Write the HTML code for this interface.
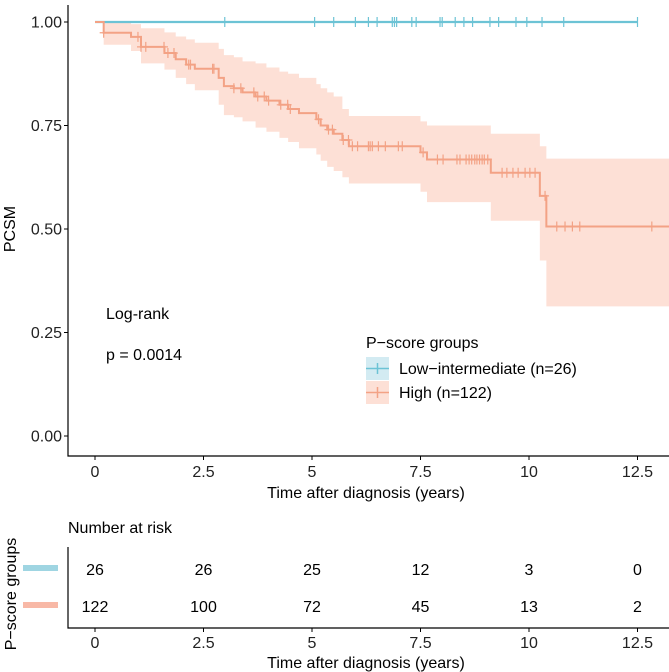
<!DOCTYPE html>
<html><head><meta charset="utf-8"><style>
body{margin:0;background:#fff}
svg{display:block;font-family:"Liberation Sans",Arial,sans-serif}
</style></head><body>
<svg id="chart" width="669" height="672" viewBox="0 0 669 672">
<defs><clipPath id="clip"><rect x="68" y="0" width="601" height="456"/></clipPath></defs>
<g id="plot" clip-path="url(#clip)"></g>
<g id="axes"></g>
</svg>
<script>
const stepTimes = [0,0.2,0.83,1.06,1.6,1.86,2.1,2.3,2.85,2.97,3.2,3.4,3.7,3.95,4.25,4.45,4.7,5.1,5.2,5.35,5.5,5.7,5.85,7.5,7.65,9.12,10.25,10.4];
const highSurv = [1,0.974,0.964,0.94,0.925,0.91,0.897,0.887,0.865,0.845,0.84,0.83,0.82,0.81,0.8,0.79,0.78,0.765,0.75,0.74,0.73,0.715,0.7,0.685,0.668,0.636,0.58,0.506];
const highUpper = [1,1,0.995,0.985,0.975,0.965,0.958,0.95,0.935,0.92,0.915,0.905,0.9,0.89,0.88,0.875,0.865,0.85,0.84,0.83,0.82,0.79,0.773,0.76,0.75,0.73,0.70,0.67];
const highLower = [1,0.945,0.93,0.9,0.885,0.865,0.85,0.835,0.8,0.775,0.77,0.76,0.745,0.735,0.72,0.71,0.695,0.68,0.665,0.65,0.64,0.625,0.61,0.59,0.565,0.52,0.424,0.313];
const highCensor = [0.2,0.99,1.06,1.17,1.59,1.68,1.82,2.16,2.2,2.71,2.74,3.2,3.36,3.66,3.75,3.9,4.0,4.28,4.44,4.5,5.15,5.38,5.47,5.72,5.84,5.93,6.05,6.3,6.34,6.39,6.53,6.69,6.99,7.08,7.56,7.89,8.02,8.34,8.41,8.55,8.62,8.68,8.75,8.8,8.86,8.92,8.97,9.05,9.38,9.49,9.63,9.75,9.91,10.02,10.14,10.37,10.64,10.83,11.0,11.17,12.83];
const lowCensor = [2.99,5.06,5.5,6.0,6.3,6.5,6.85,6.9,6.95,7.3,7.4,7.95,8.0,8.3,8.5,8.7,9.1,9.3,9.7,9.95,10.3,10.8,12.5];
const xTicks = [0,2.5,5,7.5,10,12.5];
const xTickLabels = ["0","2.5","5","7.5","10","12.5"];
const yTicks = [0,0.25,0.5,0.75,1];
const yTickLabels = ["0.00","0.25","0.50","0.75","1.00"];
const riskLow = ["26","26","25","12","3","0"];
const riskHigh = ["122","100","72","45","13","2"];

const X = t => 95 + t*43.4;
const Y = s => 436 - s*414;
const NS="http://www.w3.org/2000/svg";
const plot=document.getElementById('plot'), axes=document.getElementById('axes');
function mk(tag, attrs, parent){const e=document.createElementNS(NS,tag);for(const k in attrs)e.setAttribute(k,attrs[k]);parent.appendChild(e);return e;}
function txt(s, attrs, parent){const e=mk('text',attrs,parent);e.textContent=s;return e;}
const BLUE="#6cc3d5", ORANGE="#f3a285", BAND="#fde0d6";
const tEnd=13.4;

let bp="";
for(let i=0;i<stepTimes.length;i++){const t1=i+1<stepTimes.length?stepTimes[i+1]:tEnd;bp+=(i?"L":"M")+X(stepTimes[i])+","+Y(highUpper[i])+"L"+X(t1)+","+Y(highUpper[i]);}
for(let i=stepTimes.length-1;i>=0;i--){const t1=i+1<stepTimes.length?stepTimes[i+1]:tEnd;bp+="L"+X(t1)+","+Y(highLower[i])+"L"+X(stepTimes[i])+","+Y(highLower[i]);}
const band=mk('path',{d:bp+"Z",fill:BAND,stroke:"none"},plot);



const low=mk('line',{x1:X(0),y1:Y(1),x2:X(12.5),y2:Y(1),stroke:BLUE,"stroke-width":2.2},plot);


let lp="M"+X(0)+","+Y(1);
for(let i=1;i<stepTimes.length;i++){lp+="H"+X(stepTimes[i])+"V"+Y(highSurv[i]);}
lp+="H"+X(tEnd);
const high=mk('path',{d:lp,fill:"none",stroke:ORANGE,"stroke-width":2},plot);


function survAt(t){let s=1;for(let i=0;i<stepTimes.length;i++){if(stepTimes[i]<=t)s=highSurv[i];}return s;}
highCensor.forEach(t=>{const y=Y(survAt(t));const c=mk('path',{d:`M${X(t)},${y-5}V${y+5}M${X(t)-4},${y}H${X(t)+4}`,stroke:ORANGE,"stroke-width":1.2},plot);

});
lowCensor.forEach(t=>{const y=Y(1);const c=mk('path',{d:`M${X(t)},${y-5}V${y+5}`,stroke:BLUE,"stroke-width":1.2},plot);

});

mk('path',{d:"M68,5V456H669",fill:"none",stroke:"#000","stroke-width":1.2},axes);
yTicks.forEach((v,i)=>{mk('line',{x1:64,x2:68,y1:Y(v),y2:Y(v),stroke:"#000"},axes);
const l=txt(yTickLabels[i],{x:62,y:Y(v)+5.5,"text-anchor":"end","font-size":16,fill:"#222"},axes);

});
xTicks.forEach((v,i)=>{mk('line',{x1:X(v),x2:X(v),y1:456,y2:460,stroke:"#000"},axes);
const l=txt(xTickLabels[i],{x:X(v),y:477,"text-anchor":"middle","font-size":16,fill:"#222"},axes);

});
</script>
<script>
(function(){
const svg=document.getElementById('chart');
const NS="http://www.w3.org/2000/svg";
function mk(tag, attrs){const e=document.createElementNS(NS,tag);for(const k in attrs)e.setAttribute(k,attrs[k]);svg.appendChild(e);return e;}
function txt(s, attrs){const e=mk('text',attrs);e.textContent=s;return e;}
const X = t => 95 + t*43.4;
const BLUE="#6cc3d5", ORANGE="#f3a285";
let e;
e=txt("Time after diagnosis (years)",{x:366,y:498,"text-anchor":"middle","font-size":16,fill:"#000"});


e=txt("PCSM",{x:0,y:0,transform:"translate(15,229) rotate(-90)","text-anchor":"middle","font-size":16,fill:"#000"});


e=txt("Log-rank",{x:106,y:319,"font-size":16,fill:"#000"});


e=txt("p = 0.0014",{x:106,y:360,"font-size":16,fill:"#000"});


e=txt("P\u2212score groups",{x:366,y:348,"font-size":16,fill:"#000"});


mk('rect',{x:366,y:357,width:23,height:23,fill:"#d3ebf2"});
mk('path',{d:"M366,368.5H389M377.5,363V374",stroke:BLUE,"stroke-width":1.5});
e=txt("Low\u2212intermediate (n=26)",{x:399,y:374,"font-size":16,fill:"#000"});


mk('rect',{x:366,y:381,width:23,height:23,fill:"#fde0d6"});
mk('path',{d:"M366,392.5H389M377.5,387V398",stroke:ORANGE,"stroke-width":1.5});
e=txt("High (n=122)",{x:399,y:398,"font-size":16,fill:"#000"});


e=txt("Number at risk",{x:68,y:533,"font-size":16,fill:"#000"});


mk('path',{d:"M68,547V628H669",fill:"none",stroke:"#000","stroke-width":1.2});
xTicks.forEach((v,i)=>{
mk('line',{x1:X(v),x2:X(v),y1:628,y2:632,stroke:"#000"});
let t=txt(xTickLabels[i],{x:X(v),y:648,"text-anchor":"middle","font-size":16,fill:"#222"});


t=txt(riskLow[i],{x:X(v),y:575,"text-anchor":"middle","font-size":16,fill:"#000"});


t=txt(riskHigh[i],{x:X(v),y:612,"text-anchor":"middle","font-size":16,fill:"#000"});


});
mk('rect',{x:23,y:565,width:35,height:6,fill:"#9fd5e2"});
mk('rect',{x:23,y:602,width:35,height:6,fill:"#f8b8a6"});
e=txt("P\u2212score groups",{x:0,y:0,transform:"translate(16,594) rotate(-90)","text-anchor":"middle","font-size":16,fill:"#000"});


e=txt("Time after diagnosis (years)",{x:366,y:668,"text-anchor":"middle","font-size":16,fill:"#000"});


})();
</script>
</body></html>
